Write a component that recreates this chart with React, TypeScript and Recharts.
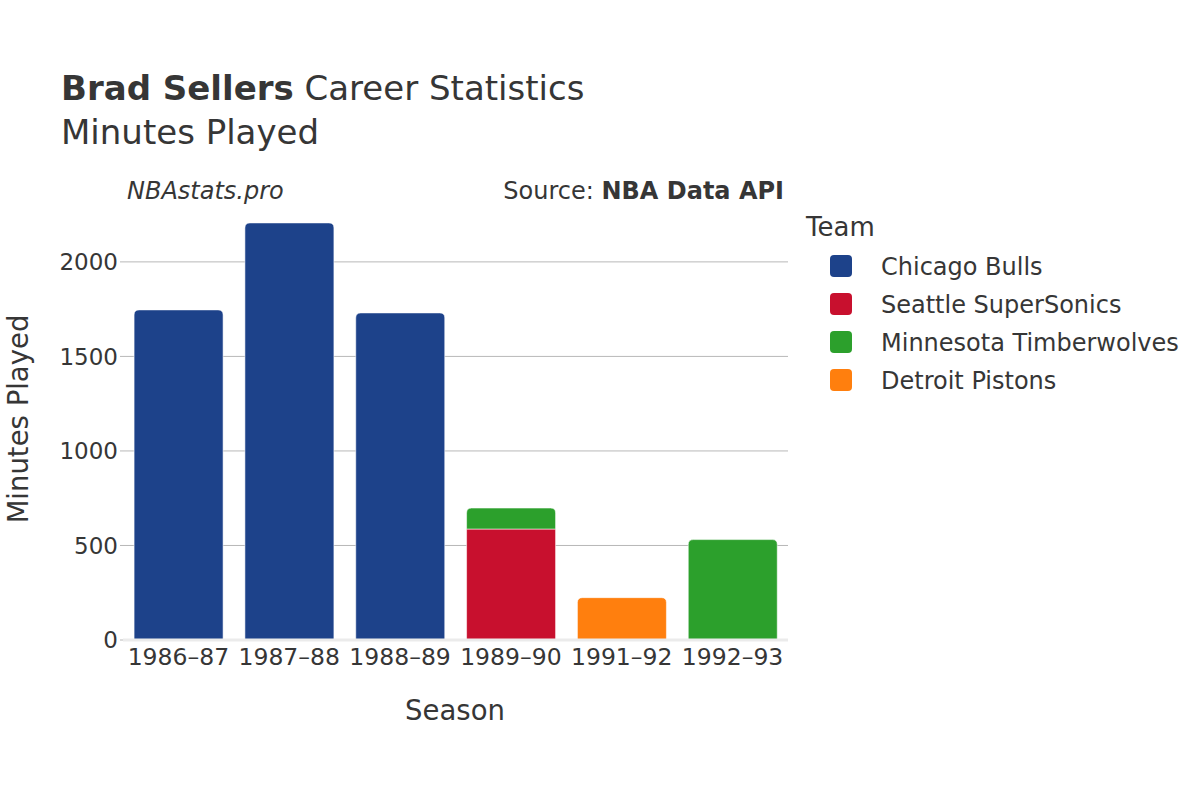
import React from "react";
import { BarChart, Bar, XAxis, YAxis, CartesianGrid, ReferenceLine } from "recharts";

const seasons = ["1986–87", "1987–88", "1988–89", "1989–90", "1991–92", "1992–93"];
const teams = ["Chicago Bulls", "Seattle SuperSonics", "Minnesota Timberwolves", "Detroit Pistons"];
const teamColors = ["#1d428a", "#c8102e", "#2ca02c", "#ff7f0e"];

const chicagoBulls = [1746, 2206, 1730, null, null, null];
const seattleSuperSonics = [null, null, null, 587, null, null];
const minnesotaTimberwolves = [null, null, null, 111, null, 531];
const detroitPistons = [null, null, null, null, 224, null];

const yTicks = [0, 500, 1000, 1500, 2000];
const gridValues = [500, 1000, 1500, 2000];

const seriesValues = [chicagoBulls, seattleSuperSonics, minnesotaTimberwolves, detroitPistons];

const data = seasons.map((season, i) => {
  const row: Record<string, string | number | null> = { season };
  teams.forEach((t, j) => {
    row[t] = seriesValues[j][i];
  });
  return row;
});

// only the top segment of a stack gets rounded corners
function isTop(payload: any, team: string) {
  const idx = teams.indexOf(team);
  for (let j = idx + 1; j < teams.length; j++) {
    if (payload[teams[j]] != null) return false;
  }
  return true;
}

function SegBar(props: any) {
  const { x, y, width, height, fill, payload, team } = props;
  if (!height || height <= 0) return null;
  const r = isTop(payload, team) ? Math.min(5, height / 2) : 0;
  const d = `M${x},${y + height} L${x},${y + r} Q${x},${y} ${x + r},${y} L${x + width - r},${y} Q${x + width},${y} ${x + width},${y + r} L${x + width},${y + height} Z`;
  return <path d={d} fill={fill} stroke="#ffffff" strokeOpacity={0.55} strokeWidth={1} />;
}

const font = "'DejaVu Sans', sans-serif";
const ink = "#363636";

export default function App() {
  return (
    <div style={{ position: "fixed", left: 0, top: 0, width: 1200, height: 800, background: "#fff", fontFamily: font }}>
      <BarChart
        width={1200}
        height={800}
        data={data}
        margin={{ top: 201, right: 412, bottom: 120, left: 63 }}
        barCategoryGap="10%"
      >
        <CartesianGrid horizontal vertical={false} horizontalValues={gridValues} stroke="#b8b8b8" strokeWidth={1} />
        <XAxis
          dataKey="season"
          height={40}
          axisLine={false}
          tickLine={false}
          tickSize={0}
          tickMargin={8}
          interval={0}
          tick={{ fill: ink, fontSize: 23.5, fontFamily: font }}
        />
        <YAxis
          width={60}
          domain={[0, 2322]}
          ticks={yTicks}
          axisLine={false}
          tickLine={{ stroke: "#b8b8b8" }}
          tickSize={3}
          tickMargin={2}
          tick={{ fill: ink, fontSize: 23, fontFamily: font }}
        />
        <ReferenceLine y={0} stroke="#ebebeb" strokeWidth={3} />
        {teams.map((team, j) => (
          <Bar
            key={team}
            dataKey={team}
            stackId="a"
            fill={teamColors[j]}
            isAnimationActive={false}
            shape={(p: any) => <SegBar {...p} team={team} />}
          />
        ))}
      </BarChart>
      <svg width={1200} height={800} style={{ position: "absolute", left: 0, top: 0, pointerEvents: "none" }} fontFamily={font}>
        <text x={61} y={100} fontSize={34} fill={ink}>
          <tspan fontWeight="bold">Brad Sellers</tspan>
          <tspan> Career Statistics</tspan>
        </text>
        <text x={61} y={144} fontSize={34} fill={ink}>Minutes Played</text>
        <text x={127} y={199} fontSize={24} fill={ink} fontStyle="italic">NBAstats.pro</text>
        <text x={784} y={199} fontSize={24} fill={ink} textAnchor="end">
          <tspan>Source: </tspan>
          <tspan fontWeight="bold">NBA Data API</tspan>
        </text>
        <text x={455} y={720} fontSize={27.5} fill={ink} textAnchor="middle">Season</text>
        <text transform="translate(28,419) rotate(-90)" fontSize={27.5} fill={ink} textAnchor="middle">Minutes Played</text>
        <text x={806} y={236} fontSize={26} fill={ink}>Team</text>
        {teams.map((team, j) => (
          <g key={team}>
            <rect x={830} y={255 + j * 38} width={22} height={22} rx={4} fill={teamColors[j]} />
            <text x={881} y={275 + j * 38} fontSize={24} fill={ink}>{team}</text>
          </g>
        ))}
      </svg>
    </div>
  );
}
